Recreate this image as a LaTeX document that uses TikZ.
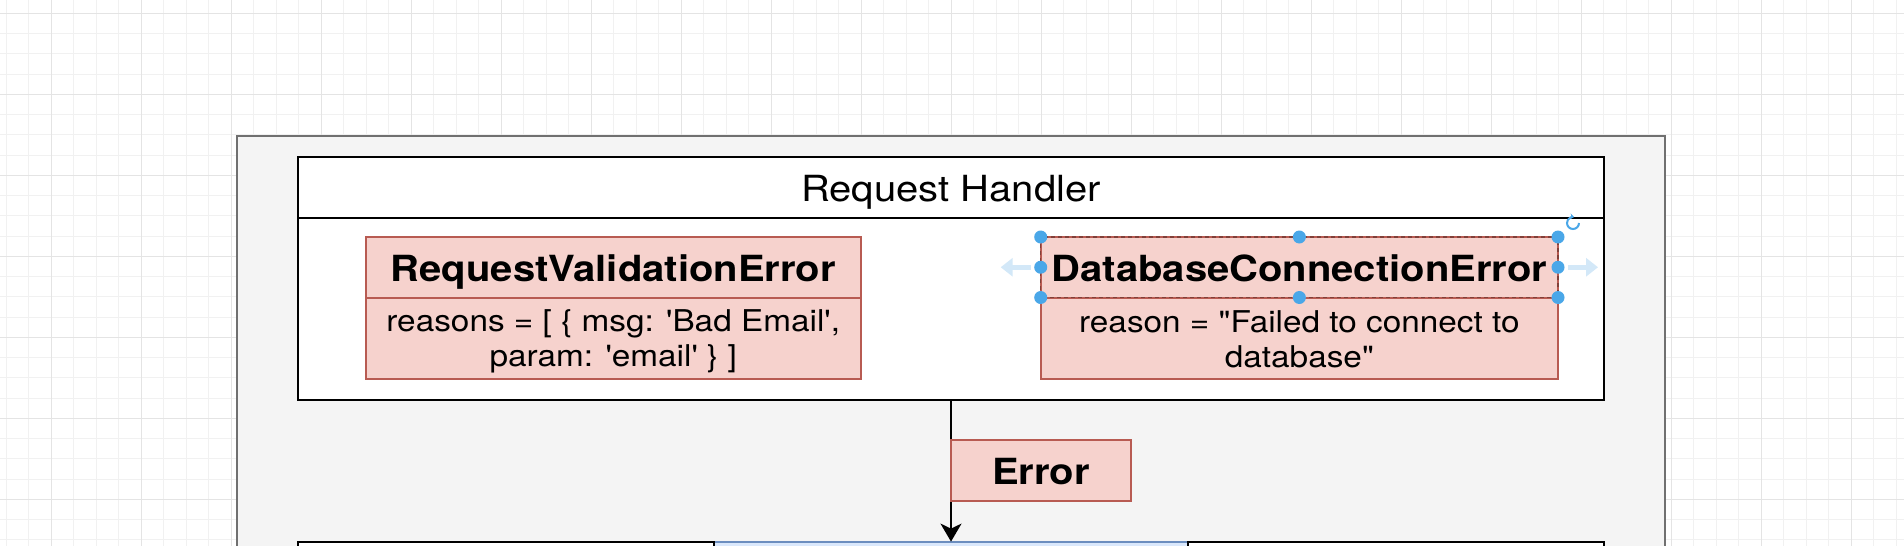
\documentclass[tikz,border=0pt]{standalone}
\usepackage{fontspec}
\setmainfont{TeX Gyre Heros}[FakeStretch=1.111, Ligatures=TeXOff]
\usetikzlibrary{arrows.meta, positioning}

\definecolor{gridminor}{HTML}{F1F1F1}
\definecolor{gridmajor}{HTML}{E4E4E4}
\definecolor{framefill}{HTML}{F4F4F4}
\definecolor{frameline}{HTML}{707070}
\definecolor{errfill}{HTML}{F6D2CD}
\definecolor{errline}{HTML}{B85B52}
\definecolor{midfill}{HTML}{DAE8FC}
\definecolor{midline}{HTML}{6C8EBF}
\definecolor{handle}{HTML}{4AA7E8}
\definecolor{hint}{HTML}{D3E8F8}

\newcommand\bigtext{\fontsize{36}{43}\selectfont}
\newcommand\smalltext{\fontsize{30}{35}\selectfont}
\newcommand\topstrut{\rule{0pt}{29pt}}        % first line of a body
\newcommand\botstrut{\rule[-6pt]{0pt}{6pt}}   % last line of a body

\begin{document}
\begin{tikzpicture}[
    x=1pt, y=-1pt,
    lane/.style={draw=black, line width=2pt, fill=white, outer sep=0pt,
                 minimum width=1306pt},
    errhead/.style={draw=errline, fill=errfill, line width=2pt, outer sep=0pt,
                    minimum width=495.5pt, minimum height=60.5pt,
                    text height=32pt, text depth=3pt, font=\bigtext\bfseries},
    errbody/.style={draw=errline, fill=errfill, line width=2pt, outer sep=0pt,
                    minimum width=495.5pt, minimum height=81.5pt,
                    font=\smalltext, align=center},
    pane/.style={draw=black, line width=2pt, fill=white, outer sep=0pt,
                 minimum height=80pt},
    flow/.style={line width=2pt, -{Stealth[length=18pt, width=21pt, inset=5pt]}},
]
    % ── Canvas and grid ───────────────────────────
    \useasboundingbox (0,0) rectangle (1904,546);
    \clip (0,0) rectangle (1904,546);
    \fill[white] (0,0) rectangle (1904,546);
    \foreach \gx in {6,28.5,...,1904}
        \draw[gridminor, line width=1pt] (\gx,0) -- (\gx,546);
    \foreach \gy in {13.3,33.55,...,546}
        \draw[gridminor, line width=1pt] (0,\gy) -- (1904,\gy);
    \foreach \gx in {51,141,...,1904}
        \draw[gridmajor, line width=1pt] (\gx,0) -- (\gx,546);
    \foreach \gy in {13.3,94.3,...,546}
        \draw[gridmajor, line width=1pt] (0,\gy) -- (1904,\gy);

    % ── Outer frame ──────────────────────────────
    \draw[frameline, fill=framefill, line width=2pt] (236.5,136) rectangle (1665,620);

    % ── Request handler lane ─────────────────────
    \node[lane, minimum height=61pt, text height=32pt, text depth=3pt,
          font=\bigtext] (head) at (951,187) {Request Handler};
    \node[lane, minimum height=182pt, below=0pt of head] (handler) {};

    % ── Error classes ────────────────────────────
    \node[errhead] (rvehead) at (613.25,267.25) {RequestValidationError};
    \node[errbody, below=0pt of rvehead] (rvebody)
        {\topstrut reasons = [ \{ msg: 'Bad Email',\\param: 'email' \} ]\botstrut};

    \node[errhead, minimum width=517.3pt] (dcehead) at (1299.35,267.25)
        {DatabaseConnectionError};
    \node[errbody, minimum width=517.3pt, below=0pt of dcehead] (dcebody)
        {\topstrut reason = "Failed to connect to\\database"\botstrut};

    % ── Selection handles on dcehead ─────────────
    \draw[errline!70!black, line width=1.5pt, dash pattern=on 4pt off 3pt]
        (dcehead.north west) rectangle (dcehead.south east);
    \foreach \a in {north west, north, north east, west, east,
                    south west, south, south east}
        \fill[handle] (dcehead.\a) circle (6.5pt);
    \draw[hint, line width=5pt, -{Triangle[length=12pt, width=18pt]}]
        ([xshift=-10pt]dcehead.west) -- ++(-30,0);
    \draw[hint, line width=5pt, -{Triangle[length=12pt, width=18pt]}]
        ([xshift=10pt]dcehead.east) -- ++(30,0);
    \coordinate (spin) at (1573,223);
    \draw[handle, line width=2pt, -{Stealth[length=4pt, width=6pt]}]
        (spin) ++(6,0) arc[start angle=0, end angle=280, radius=6];

    % ── Lower row ────────────────────────────────
    \node[pane, fill=midfill, draw=midline, minimum width=473.6pt, anchor=north]
        (midpane) at (951,541.6) {};
    \node[pane, minimum width=416pt, left=0pt of midpane] (leftpane) {};
    \node[pane, minimum width=416pt, right=0pt of midpane] (rightpane) {};

    % ── Thrown error ─────────────────────────────
    \draw[flow] (handler.south) -- (midpane.north);
    \node[errhead, minimum width=180pt, minimum height=61pt, anchor=north west]
        (err) at (951,439.5) {Error};
\end{tikzpicture}
\end{document}
